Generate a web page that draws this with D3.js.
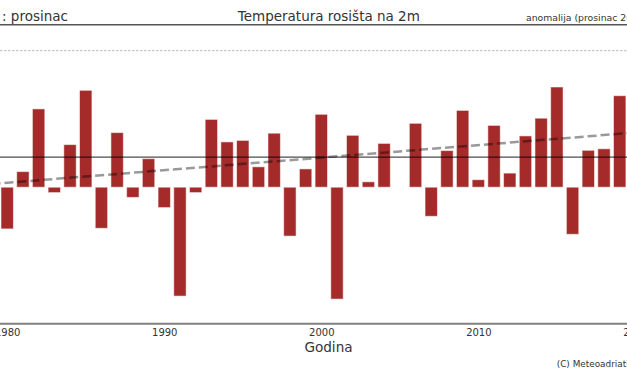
<!DOCTYPE html>
<html>
<head>
<meta charset="utf-8">
<script src="https://cdn.jsdelivr.net/npm/d3@7"></script>
<style>
    body { margin: 0; background: #fff; }
    svg { display: block; font-family: "DejaVu Sans", sans-serif; }
</style>
</head>
<body>
<div id="chart"></div>
<script>
// December dew point anomaly per year (°C)
const years = d3.range(1980, 2020);
const anomalies = [
    -1.39, 0.52, 2.61, -0.18, 1.42, 3.23, -1.37, 1.82, -0.34, 0.95,
    -0.68, -3.63, -0.18, 2.26, 1.51, 1.56, 0.68, 1.80, -1.63, 0.61,
    2.43, -3.73, 1.73, 0.18, 1.46, 0.00, 2.13, -0.97, 1.22, 2.56,
    0.25, 2.06, 0.47, 1.71, 2.30, 3.34, -1.57, 1.23, 1.28, 3.05
];
const tickYears = [1980, 1990, 2000, 2010, 2020];
const refValue = 1.0;
const trendYears = [1979, 2021];
const trendValues = [0.107, 1.864];
const yLimit = 4.55;

const width = 627, height = 376;

const svg = d3.select("#chart").append("svg")
    .attr("width", width)
    .attr("height", height);

// scales: one year is ~15.7px, 1980 sits at x=7.2
const x = d3.scaleLinear().domain([1980, 2020]).range([7.2, 635.4]);
const y = d3.scaleLinear().domain([-yLimit, yLimit]).range([323.7, 50.7]);
const barW = 12.4;

// header line + texts
svg.append("line")
    .attr("x1", 0).attr("x2", width)
    .attr("y1", 24.7).attr("y2", 24.7)
    .attr("stroke", "#555").attr("stroke-width", 1.5);

svg.append("text")
    .attr("x", 2).attr("y", 20.7)
    .attr("font-size", 13.5).attr("fill", "#333")
    .text(": prosinac");

svg.append("text")
    .attr("x", 328.8).attr("y", 20.7)
    .attr("text-anchor", "middle")
    .attr("font-size", 13.5).attr("fill", "#333")
    .text("Temperatura rosišta na 2m");

svg.append("text")
    .attr("x", 526).attr("y", 20.7)
    .attr("font-size", 9.3).attr("fill", "#333")
    .text("anomalija (prosinac 2019)");

// upper limit dotted line
svg.append("line")
    .attr("x1", 0).attr("x2", width)
    .attr("y1", y(yLimit)).attr("y2", y(yLimit))
    .attr("stroke", "#bbb").attr("stroke-width", 1)
    .attr("stroke-dasharray", "2.5,1.5");

// bars
svg.append("g")
    .selectAll("rect")
    .data(years)
    .join("rect")
    .attr("x", (d) => x(d) - barW / 2)
    .attr("y", (d, i) => y(Math.max(0, anomalies[i])))
    .attr("width", barW)
    .attr("height", (d, i) => Math.abs(y(anomalies[i]) - y(0)))
    .attr("fill", "#a52a2a")
    .attr("stroke", "#fff")
    .attr("stroke-opacity", 0.55)
    .attr("stroke-width", 1);

// reference line
svg.append("line")
    .attr("x1", 0).attr("x2", width)
    .attr("y1", y(refValue)).attr("y2", y(refValue))
    .attr("stroke", "#000").attr("stroke-opacity", 0.7)
    .attr("stroke-width", 1.3);

// trend line
const trendline = d3.line()
    .x((d) => x(d[0]))
    .y((d) => y(d[1]));

svg.append("path")
    .datum(trendYears.map((yr, i) => [yr, trendValues[i]]))
    .attr("d", trendline)
    .attr("fill", "none")
    .attr("stroke", "#000").attr("stroke-opacity", 0.4)
    .attr("stroke-width", 2.5)
    .attr("stroke-dasharray", "9,4");

// bottom axis
const xAxis = svg.append("g")
    .attr("transform", "translate(0," + y(-yLimit) + ")")
    .call(d3.axisBottom(x).tickValues(tickYears).tickFormat(d3.format("d")).tickSize(0).tickPadding(5));

xAxis.select(".domain").remove();
xAxis.selectAll("text")
    .attr("font-family", "DejaVu Sans")
    .attr("font-size", 10)
    .attr("fill", "#333");

svg.append("line")
    .attr("x1", 0).attr("x2", width)
    .attr("y1", y(-yLimit)).attr("y2", y(-yLimit))
    .attr("stroke", "#808080").attr("stroke-width", 2);

svg.append("text")
    .attr("x", 328.5).attr("y", 352.3)
    .attr("text-anchor", "middle")
    .attr("font-size", 13.6).attr("fill", "#333")
    .text("Godina");

svg.append("text")
    .attr("x", 556.7).attr("y", 366.5)
    .attr("font-size", 8.9).attr("fill", "#333")
    .text("(C) Meteoadriatic");
</script>
</body>
</html>
